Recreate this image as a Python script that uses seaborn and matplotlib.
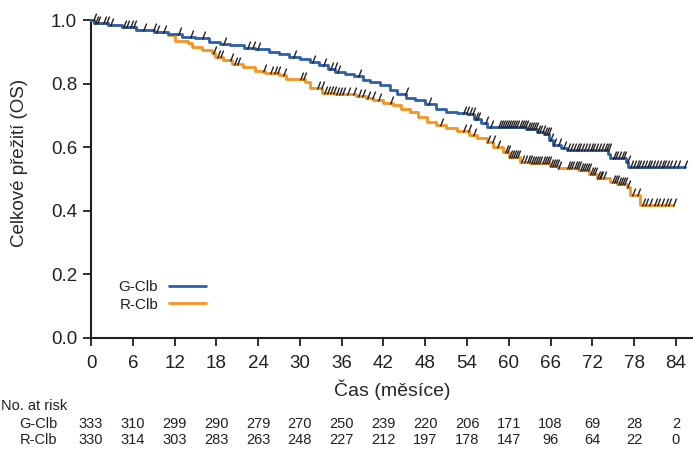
import numpy as np
import pandas as pd
import matplotlib
matplotlib.use("Agg")
import matplotlib.pyplot as plt
from matplotlib.path import Path
from matplotlib.lines import Line2D
import seaborn as sns

# ---------------- data ----------------
groups = ["G-Clb", "R-Clb"]
g_time = [0, 0.5, 2.5, 4.5, 6.5, 9, 11, 13, 15, 17, 18.5, 20, 22, 23.5, 25.5, 27, 28.5,
          30, 31.5, 32.8, 34, 35, 36.5, 37.8, 39, 40, 41.5, 43, 44, 45.2, 46.5, 48,
          49.5, 51, 52.5, 54, 55, 56, 56.8, 61, 62.5, 64, 65, 65.7, 66.3, 67.5, 68.4,
          74.3, 74.6, 76.8, 77.1, 85.3]
g_surv = [1.0, 0.99, 0.984, 0.977, 0.969, 0.963, 0.955, 0.948, 0.942, 0.932, 0.925,
          0.921, 0.913, 0.908, 0.9, 0.893, 0.885, 0.877, 0.869, 0.858, 0.847, 0.837,
          0.83, 0.824, 0.812, 0.804, 0.796, 0.78, 0.768, 0.756, 0.748, 0.736, 0.72,
          0.712, 0.709, 0.705, 0.69, 0.676, 0.665, 0.663, 0.657, 0.649, 0.64, 0.622,
          0.607, 0.598, 0.591, 0.58, 0.565, 0.555, 0.539, 0.539]
r_time = [0, 0.5, 2.5, 4.5, 6.5, 9, 11, 12, 14, 14.5, 16, 17.4, 17.8, 19, 20.3, 21.8,
          23.5, 25, 27, 28, 30.8, 31.4, 33.2, 35, 38, 39.5, 40.5, 42, 43.3, 44.5, 45.8,
          47, 48.2, 49.5, 51, 52.5, 54.3, 55.5, 56.9, 57.8, 59.2, 60, 61.6, 63, 65.9,
          67, 70, 71.5, 72.6, 74.5, 75.5, 77, 77.4, 78.8, 83.6]
r_surv = [1.0, 0.99, 0.984, 0.977, 0.969, 0.963, 0.953, 0.935, 0.927, 0.916, 0.905,
          0.897, 0.885, 0.875, 0.862, 0.852, 0.84, 0.834, 0.827, 0.813, 0.806, 0.785,
          0.771, 0.768, 0.762, 0.755, 0.748, 0.74, 0.733, 0.72, 0.71, 0.695, 0.68, 0.67,
          0.659, 0.65, 0.638, 0.628, 0.617, 0.6, 0.586, 0.57, 0.554, 0.549, 0.541, 0.534,
          0.528, 0.515, 0.502, 0.492, 0.485, 0.476, 0.45, 0.418, 0.418]
g_censor = [0.3, 0.6, 0.9, 1.7, 2.2, 2.7, 4.6, 5.0, 5.6, 6.0, 7.5, 8.9, 9.3, 10.3, 12.5,
            14.2, 15.9, 19.0, 22.4, 23.1, 23.8, 29.0, 31.7, 33.3, 34.3, 34.9, 35.3, 38.3,
            45.1, 48.4, 53.4, 53.8, 54.3, 54.7, 55.1, 55.4, 56.6, 57.3, 58.4, 58.7, 59.0,
            59.3, 59.6, 59.9, 60.2, 60.5, 60.8, 61.1, 61.4, 61.7, 62.0, 62.3, 62.6, 62.9,
            63.2, 63.5, 63.8, 64.1, 64.4, 64.7, 65.0, 65.3, 65.6, 65.9, 66.3, 67.1, 67.8,
            68.4, 68.8, 69.2, 69.6, 70.0, 70.4, 70.8, 71.2, 71.6, 72.0, 72.4, 72.8, 73.2,
            73.6, 74.0, 74.2, 74.9, 75.3, 75.7, 76.1, 76.4, 77.0, 77.4, 77.8, 78.2, 78.6,
            79.0, 79.4, 79.8, 80.2, 80.6, 81.0, 81.4, 81.8, 82.2, 82.6, 83.0, 83.6, 84.2,
            85.1]
r_censor = [17.5, 18.1, 18.5, 20.0, 20.5, 21.0, 24.7, 25.7, 26.3, 26.7, 27.6, 30.0, 30.4,
            32.5, 33.0, 33.4, 33.9, 34.3, 34.7, 35.2, 35.6, 36.1, 36.8, 37.6, 38.3, 38.9,
            39.6, 40.4, 41.2, 42.9, 50.1, 53.4, 54.1, 54.9, 56.9, 57.6, 58.3, 59.4, 59.7,
            60.0, 60.3, 60.6, 60.9, 61.2, 61.8, 62.2, 62.6, 62.9, 63.2, 63.5, 63.8, 64.1,
            64.4, 64.7, 65.0, 65.3, 65.6, 65.9, 66.2, 66.5, 66.8, 67.1, 68.4, 68.7, 69.0,
            69.3, 69.6, 69.9, 70.2, 70.5, 70.8, 71.1, 71.4, 71.7, 72.0, 72.3, 72.6, 72.9,
            73.1, 73.5, 74.8, 75.1, 75.4, 75.7, 76.0, 76.3, 76.6, 77.0, 77.7, 78.4, 79.1,
            79.6, 80.2, 80.8, 81.3, 81.8, 82.4, 82.8, 83.6]
x_ticks = list(range(0, 85, 6))
y_ticks = [0.0, 0.2, 0.4, 0.6, 0.8, 1.0]
risk_g = [333, 310, 299, 290, 279, 270, 250, 239, 220, 206, 171, 108, 69, 28, 2]
risk_r = [330, 314, 303, 283, 263, 248, 227, 212, 197, 178, 147, 96, 64, 22, 0]

colors = {"G-Clb": "#2c5faf", "R-Clb": "#f7931e"}
censor_color = "#231f20"

# ---------------- style ----------------
sns.set_style("ticks")
plt.rcParams["font.family"] = ["Liberation Sans", "DejaVu Sans"]
plt.rcParams["text.color"] = "#231f20"

fig = plt.figure(figsize=(6.93, 4.49), dpi=100)
ax = fig.add_axes([91 / 693, 111 / 449, 602 / 693, 318 / 449])

df = pd.concat([
    pd.DataFrame({"t": r_time, "S": r_surv, "grp": "R-Clb"}),
    pd.DataFrame({"t": g_time, "S": g_surv, "grp": "G-Clb"}),
])
for grp in ["R-Clb", "G-Clb"]:
    sns.lineplot(data=df[df.grp == grp], x="t", y="S", color=colors[grp],
                 drawstyle="steps-post", estimator=None, sort=False, lw=2.0,
                 ax=ax, legend=False, clip_on=False, zorder=3)

slash = Path([(0.0, -0.15), (0.45, 1.0)], [Path.MOVETO, Path.LINETO])

def surv_at(times, surv, t):
    idx = np.searchsorted(np.asarray(times), np.asarray(t), side="right") - 1
    return np.asarray(surv)[idx]

for times, surv, cens in [(r_time, r_surv, r_censor), (g_time, g_surv, g_censor)]:
    ax.plot(cens, surv_at(times, surv, cens), linestyle="none", marker=slash,
            markersize=10, markeredgewidth=1.0, markeredgecolor=censor_color,
            color=censor_color, zorder=4, clip_on=False)

ax.set_xlim(0, 86.45)
ax.set_ylim(0, 1.0)
ax.set_xticks(x_ticks)
ax.set_yticks(y_ticks)
ax.set_yticklabels([f"{v:.1f}" for v in y_ticks])
ax.tick_params(axis="both", direction="out", length=6, width=1.3, labelsize=13.5,
               color=censor_color, labelcolor=censor_color, pad=4)
ax.tick_params(axis="x", pad=6)
for s in ["top", "right"]:
    ax.spines[s].set_visible(False)
for s in ["left", "bottom"]:
    ax.spines[s].set_linewidth(1.5)
    ax.spines[s].set_color(censor_color)

ax.set_xlabel("Čas (měsíce)", fontsize=14, labelpad=6)
ax.set_ylabel("Celkové přežití (OS)", fontsize=13.5)
ax.yaxis.set_label_coords(-0.105, 0.55)

handles = [Line2D([], [], color=colors[g], lw=2.0) for g in groups]
leg = ax.legend(handles, groups, loc="center left", bbox_to_anchor=(0.046, 0.132),
                frameon=False, markerfirst=False, fontsize=11, handlelength=2.4,
                handletextpad=0.7, labelspacing=0.2, borderpad=0, borderaxespad=0)

# risk table
trans = matplotlib.transforms.blended_transform_factory(ax.transData, fig.transFigure)
fig.text(1 / 693, 1 - 406 / 449, "No. at risk", fontsize=10.5, va="center", ha="left")
fig.text(57 / 693, 1 - 424 / 449, "G-Clb", fontsize=10.5, va="center", ha="right")
fig.text(57 / 693, 1 - 440 / 449, "R-Clb", fontsize=10.5, va="center", ha="right")
for xt, a, b in zip(x_ticks, risk_g, risk_r):
    ax.text(xt, 1 - 424 / 449, str(a), transform=trans, fontsize=10.5, ha="center",
            va="center", clip_on=False)
    ax.text(xt, 1 - 440 / 449, str(b), transform=trans, fontsize=10.5, ha="center",
            va="center", clip_on=False)

fig.savefig("out.png", dpi=100)
